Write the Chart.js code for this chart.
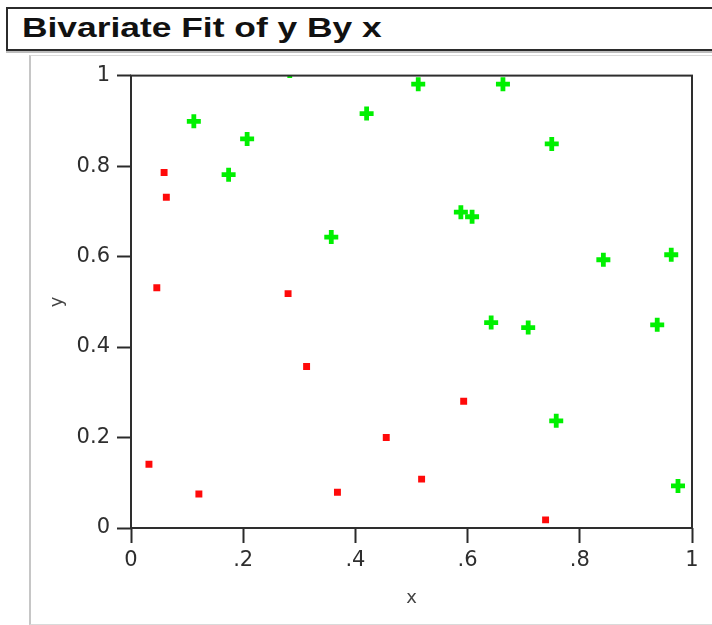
<!DOCTYPE html>
<html>
<head>
<meta charset="utf-8">
<title>Bivariate Fit of y By x</title>
<script src="https://cdn.jsdelivr.net/npm/chart.js@4/dist/chart.umd.min.js"></script>
<style>
    html, body {
        margin: 0;
        padding: 0;
        background: #fff;
        width: 712px;
        height: 625px;
        overflow: hidden;
    }
    #title-box {
        position: absolute;
        left: 6px;
        top: 7px;
        width: 740px;
        height: 40px;
        border: 2px solid #2b2b2b;
        box-shadow: 0 2px 0 #bdbdbd;
    }
    #title-text {
        position: absolute;
        left: 14px;
        top: 4px;
        font: bold 27px "Liberation Sans", Arial, sans-serif;
        color: #111;
        white-space: nowrap;
        transform: scaleX(1.31);
        transform-origin: left center;
    }
    #panel {
        position: absolute;
        left: 29px;
        top: 55px;
        width: 700px;
        height: 568px;
        border-left: 2px solid #c6c6c6;
        border-top: 1px solid #dadada;
        border-bottom: 1px solid #dadada;
    }
    #chart-wrap {
        position: absolute;
        left: 31px;
        top: 56px;
        width: 681px;
        height: 568px;
    }
</style>
</head>
<body>
<div id="title-box"><div id="title-text">Bivariate Fit of y By x</div></div>
<div id="panel"></div>
<div id="chart-wrap"><canvas id="fit-chart"></canvas></div>

<script>
// Values

// red squares
const redX = [0.059, 0.063, 0.046, 0.032, 0.121, 0.280, 0.313, 0.368, 0.455, 0.518, 0.593, 0.739];
const redY = [0.786, 0.731, 0.531, 0.141, 0.075, 0.518, 0.357, 0.079, 0.200, 0.108, 0.280, 0.018];

// green crosses
const greenX = [0.112, 0.174, 0.207, 0.283, 0.357, 0.420, 0.512, 0.588, 0.608, 0.642,
                0.663, 0.708, 0.750, 0.758, 0.842, 0.938, 0.963, 0.975];
const greenY = [0.899, 0.781, 0.860, 1.010, 0.643, 0.916, 0.981, 0.698, 0.688, 0.454,
                0.981, 0.443, 0.849, 0.237, 0.593, 0.449, 0.604, 0.093];

// tick labels
const xTickLabels = ['0', '.2', '.4', '.6', '.8', '1'];
const yTickLabels = ['0', '0.2', '0.4', '0.6', '0.8', '1'];

const tickFont = { family: 'DejaVu Sans', size: 21 };
const titleFont = { family: 'DejaVu Sans', size: 18 };

function toPoints(xs, ys) {
    return xs.map((x, i) => ({ x: x, y: ys[i] }));
}

// draws the black box round the plot area
const framePlugin = {
    id: 'frame',
    afterDraw(chart) {
        const { ctx, chartArea } = chart;
        ctx.save();
        ctx.strokeStyle = '#2e2e2e';
        ctx.lineWidth = 2;
        ctx.strokeRect(chartArea.left, chartArea.top,
            chartArea.right - chartArea.left, chartArea.bottom - chartArea.top);
        ctx.restore();
    },
};

const ctx = document.getElementById('fit-chart').getContext('2d');
const fitChart = new Chart(ctx, {
    type: 'scatter',
    data: {
        datasets: [
            {
                label: 'red',
                data: toPoints(redX, redY),
                pointStyle: 'rect',
                pointRadius: 4.9,
                pointHoverRadius: 4.9,
                backgroundColor: '#ff0a0a',
                borderWidth: 0,
                clip: 0,
            },
            {
                label: 'green',
                data: toPoints(greenX, greenY),
                pointStyle: 'cross',
                pointRadius: 7,
                pointHoverRadius: 7,
                borderColor: '#00f000',
                backgroundColor: '#00f000',
                borderWidth: 4.8,
                clip: 0,
            },
        ],
    },
    options: {
        responsive: true,
        maintainAspectRatio: false,
        animation: false,
        events: [],
        layout: {
            padding: { top: 19, right: 20, left: 0, bottom: 0 },
        },
        plugins: {
            legend: { display: false },
            tooltip: { enabled: false },
        },
        scales: {
            x: {
                type: 'linear',
                min: 0,
                max: 1,
                afterFit: (scale) => { scale.height = 96; },
                grid: {
                    drawOnChartArea: false,
                    drawTicks: true,
                    tickLength: 15,
                    tickColor: '#2a2a2a',
                    tickWidth: 2,
                },
                border: { display: false },
                ticks: {
                    stepSize: 0.2,
                    padding: 5,
                    color: '#2e2e2e',
                    font: tickFont,
                    maxRotation: 0,
                    callback: (value, index) => xTickLabels[index],
                },
                title: {
                    display: true,
                    text: 'x',
                    color: '#444',
                    font: titleFont,
                    padding: { top: 0, bottom: 15 },
                },
            },
            y: {
                type: 'linear',
                min: 0,
                max: 1,
                afterFit: (scale) => { scale.width = 100; },
                grid: {
                    drawOnChartArea: false,
                    drawTicks: true,
                    tickLength: 14,
                    tickColor: '#2a2a2a',
                    tickWidth: 2,
                },
                border: { display: false },
                ticks: {
                    stepSize: 0.2,
                    padding: 7,
                    color: '#2e2e2e',
                    font: tickFont,
                    callback: (value, index) => yTickLabels[index],
                },
                title: {
                    display: true,
                    text: 'y',
                    color: '#444',
                    font: titleFont,
                    padding: { top: 16, bottom: 0 },
                },
            },
        },
    },
    plugins: [framePlugin],
});
</script>
</body>
</html>
